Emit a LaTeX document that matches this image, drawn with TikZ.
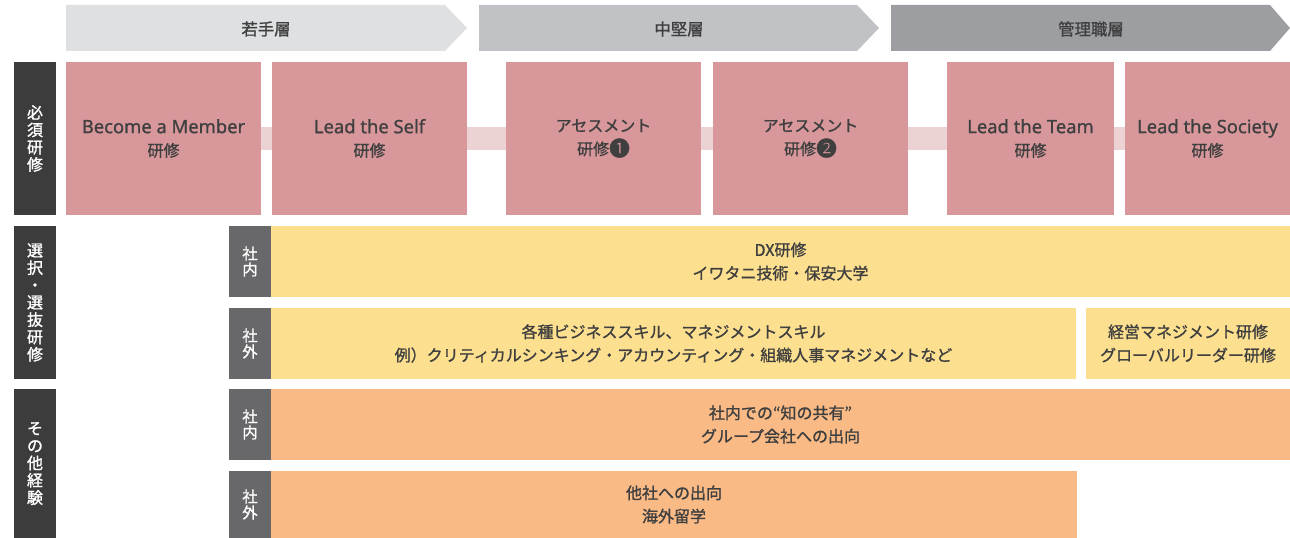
\documentclass[tikz,border=0pt]{standalone}
\usepackage{fontspec}
\setmainfont{Noto Sans CJK JP}[FakeBold=1.2,AutoFakeBold=0]
\newfontfamily\jpf{Noto Sans CJK JP}[FakeBold=1.2]
\newfontfamily\latinf{Noto Sans}[FakeBold=0.8]
\definecolor{pinkc}{HTML}{D7979B}
\definecolor{bandc}{HTML}{EDD2D4}
\definecolor{yelc}{HTML}{FDE08F}
\definecolor{orac}{HTML}{F9BA85}
\definecolor{darkc}{HTML}{3C3C3C}
\definecolor{tagc}{HTML}{68676A}
\definecolor{arA}{HTML}{DFE0E2}
\definecolor{arB}{HTML}{C1C2C6}
\definecolor{arC}{HTML}{9D9EA2}
\definecolor{txtc}{HTML}{3F3F3F}
\newcommand\rbox[7]{\node[#1, anchor=north west, minimum width={(#4-#2)*0.75pt}, minimum height={(#5-#3)*0.75pt}] (#6) at (#2,#3) {#7};}
\newcommand\lt[1]{{\latinf\fontsize{13.8pt}{17.25pt}\selectfont #1}}
\newcommand\circnum[1]{\raisebox{-0.12ex}{\scalebox{1.3}{#1}}}
\begin{document}
\begin{tikzpicture}[x=0.75pt,y=-0.75pt,
  base/.style={inner sep=0pt, outer sep=0pt, align=center, text=txtc, font=\jpf\fontsize{12pt}{17.5pt}\selectfont},
  pinkbox/.style={base, fill=pinkc},
  yelbox/.style={base, fill=yelc},
  orabox/.style={base, fill=orac},
  sidelab/.style={base, fill=darkc, text=white, font=\jpf\fontsize{12pt}{13pt}\selectfont},
  tagbox/.style={base, fill=tagc, text=white, font=\jpf\fontsize{11.5pt}{12pt}\selectfont},
  headtxt/.style={base, font=\jpf\fontsize{12.3pt}{14pt}\selectfont}
]
\useasboundingbox (0,0) rectangle (1290,538);
% header arrows
\fill[arA] (66,5) -- (445,5) -- (467,28) -- (445,51) -- (66,51) -- cycle;
\fill[arB] (479,5) -- (857,5) -- (879,28) -- (857,51) -- (479,51) -- cycle;
\fill[arC] (891,5) -- (1270,5) -- (1290,28) -- (1270,51) -- (891,51) -- cycle;
\node[headtxt] (h1) at (266,29) {若手層};
\node[headtxt] (h2) at (679,29) {中堅層};
\node[headtxt] (h3) at (1091,29) {管理職層};
% side labels
\rbox{sidelab}{14}{62}{56}{215}{s1}{必\\須\\研\\修}
\rbox{sidelab}{14}{226}{56}{379}{s2}{選\\択\\・\\選\\抜\\研\\修}
\rbox{sidelab}{14}{389}{56}{538}{s3}{そ\\の\\他\\経\\験}
% band
\fill[bandc] (261,127) rectangle (1125,150);
% pink boxes
\rbox{pinkbox}{66}{62}{261}{215}{p1}{\lt{Become a Member}\\研修}
\rbox{pinkbox}{272}{62}{467}{215}{p2}{\lt{Lead the Self}\\研修}
\rbox{pinkbox}{506}{62}{701}{215}{p3}{アセスメント\\研修\circnum{❶}}
\rbox{pinkbox}{713}{62}{908}{215}{p4}{アセスメント\\研修\circnum{❷}}
\rbox{pinkbox}{947}{62}{1114}{215}{p5}{\lt{Lead the Team}\\研修}
\rbox{pinkbox}{1125}{62}{1290}{215}{p6}{\lt{Lead the Society}\\研修}
% tags
\rbox{tagbox}{229}{226}{271}{297}{t1}{社\\内}
\rbox{tagbox}{229}{308}{271}{379}{t2}{社\\外}
\rbox{tagbox}{229}{389}{271}{460}{t3}{社\\内}
\rbox{tagbox}{229}{471}{271}{538}{t4}{社\\外}
% selection rows
\rbox{yelbox}{271}{226}{1290}{297}{y1}{DX研修\\イワタニ技術・保安大学}
\rbox{yelbox}{271}{308}{1076}{379}{y2}{各種ビジネススキル、マネジメントスキル\\例）クリティカルシンキング・アカウンティング・組織人事マネジメントなど}
\rbox{yelbox}{1086}{308}{1290}{379}{y3}{経営マネジメント研修\\グローバルリーダー研修}
% other experience
\rbox{orabox}{271}{389}{1290}{460}{o1}{社内での“知の共有”\\グループ会社への出向}
\rbox{orabox}{271}{471}{1077}{538}{o2}{他社への出向\\海外留学}
\end{tikzpicture}
\end{document}
